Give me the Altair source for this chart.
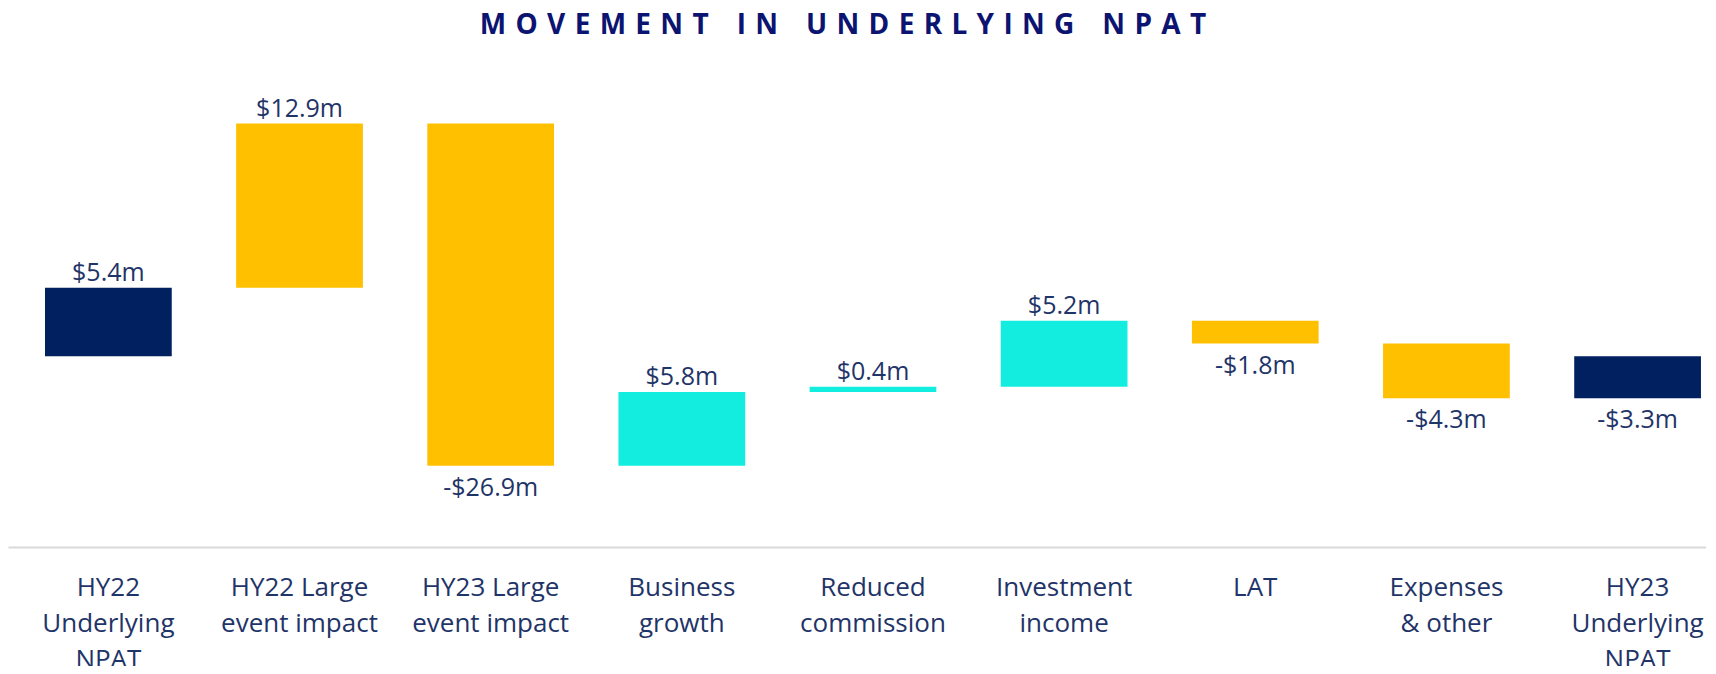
import altair as alt
import pandas as pd

# ---- data ----
categories = [
    "HY22|Underlying|NPAT",
    "HY22 Large|event impact",
    "HY23 Large|event impact",
    "Business|growth",
    "Reduced|commission",
    "Investment|income",
    "LAT",
    "Expenses|& other",
    "HY23|Underlying|NPAT",
]
values = [5.4, 12.9, -26.9, 5.8, 0.4, 5.2, -1.8, -4.3, -3.3]
is_total = [True, False, False, False, False, False, False, False, True]
groups = [
    "Underlying NPAT",
    "Large events & costs",
    "Large events & costs",
    "Growth",
    "Growth",
    "Growth",
    "Large events & costs",
    "Large events & costs",
    "Underlying NPAT",
]
group_names = ["Underlying NPAT", "Large events & costs", "Growth"]
group_colors = ["#00205F", "#FFC000", "#12EDDF"]

title_words = ["MOVEMENT", "IN", "UNDERLYING", "NPAT"]
title_text = "\u2003".join("\u2004".join(w) for w in title_words)

# ---- build waterfall table ----
rows = []
running = 0.0
for cat, v, tot, g in zip(categories, values, is_total, groups):
    if tot:
        start, end = 0.0, v
    else:
        start, end = running, running + v
    running = end
    label = ("-" if v < 0 else "") + "$" + f"{abs(v):.1f}m"
    rows.append(dict(category=cat, start=start, end=end,
                     top=max(start, end), bottom=min(start, end),
                     value=v, label=label, group=g))
df = pd.DataFrame(rows)

label_color = "#1F3468"
yscale = alt.Scale(domain=[-15, 20], nice=False, zero=False)

x_enc = alt.X(
    "category:N",
    sort=categories,
    scale=alt.Scale(paddingInner=0.337, paddingOuter=0.11, align=0.88),
    axis=alt.Axis(
        title=None,
        labelAngle=0,
        labelExpr="split(datum.label, '|')",
        labelFont="Open Sans",
        labelFontSize=26,
        labelColor=label_color,
        labelLineHeight=36,
        labelPadding=27,
        labelBaseline="top",
        labelOverlap=False,
        labelBound=False,
        labelLimit=0,
        ticks=False,
        tickSize=0,
        grid=False,
        domainColor="#D9D9D9",
        domainWidth=2,
    ),
)

base = alt.Chart(df)

bars = base.mark_bar().encode(
    x=x_enc,
    y=alt.Y("start:Q", scale=yscale, axis=None),
    y2="end:Q",
    color=alt.Color("group:N", scale=alt.Scale(domain=group_names, range=group_colors), legend=None),
)

pos_labels = base.mark_text(
    baseline="alphabetic", dy=-7, font="Open Sans", fontSize=25, color=label_color
).encode(
    x=x_enc,
    y=alt.Y("top:Q", scale=yscale, axis=None),
    text="label:N",
).transform_filter("datum.value >= 0")

neg_labels = base.mark_text(
    baseline="alphabetic", dy=30, font="Open Sans", fontSize=25, color=label_color
).encode(
    x=x_enc,
    y=alt.Y("bottom:Q", scale=yscale, axis=None),
    text="label:N",
).transform_filter("datum.value < 0")

chart = (
    alt.layer(bars, pos_labels, neg_labels)
    .properties(
        width=1698,
        height=445,
        autosize="none",
        padding={"left": 0, "top": 94, "right": 0, "bottom": 119},
        title=alt.TitleParams(
            text=title_text,
            font="Open Sans",
            fontSize=28,
            fontWeight="bold",
            color="#0B1470",
            anchor="middle",
            offset=57,
            dx=-14,
        ),
    )
    .configure_view(stroke=None)
)

chart.save("out.html", embed_options={"renderer": "svg", "actions": False})
